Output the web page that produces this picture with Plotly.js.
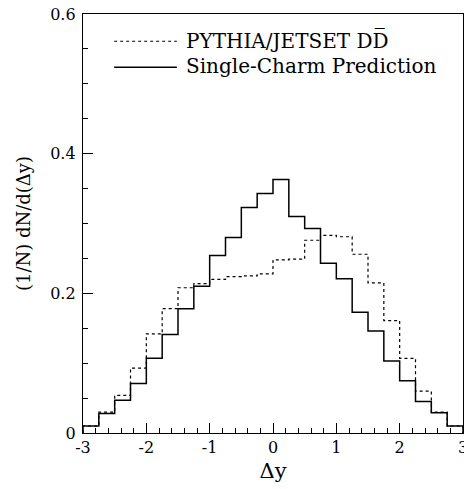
<!DOCTYPE html>
<html>
<head>
<meta charset="utf-8">
<script src="https://cdn.plot.ly/plotly-3.0.1.min.js"></script>
<style>html,body{margin:0;padding:0;background:#fff;}#chart{width:464px;height:489px;}</style>
</head>
<body>
<div id="chart"></div>
<script>
// Bin low edges (bin width 0.25), upper edge of the last bin
const binLow = [-3, -2.75, -2.5, -2.25, -2, -1.75, -1.5, -1.25, -1, -0.75, -0.5, -0.25,
                0, 0.25, 0.5, 0.75, 1, 1.25, 1.5, 1.75, 2, 2.25, 2.5, 2.75];
const binHigh = 3;
// Single-Charm Prediction (solid)
const singleCharm = [0.010, 0.028, 0.047, 0.071, 0.107, 0.141, 0.178, 0.210, 0.254, 0.280, 0.323, 0.343,
                     0.363, 0.310, 0.293, 0.243, 0.221, 0.173, 0.146, 0.103, 0.075, 0.045, 0.029, 0.010];
// PYTHIA/JETSET DDbar (dotted)
const pythia = [0.010, 0.030, 0.054, 0.093, 0.142, 0.178, 0.208, 0.214, 0.220, 0.224, 0.225, 0.228,
                0.248, 0.249, 0.276, 0.283, 0.281, 0.256, 0.215, 0.161, 0.107, 0.060, 0.030, 0.010];
const xTickVals = [-3, -2, -1, 0, 1, 2, 3];
const xTickText = ['-3', '-2', '-1', '0', '1', '2', '3'];
const legendNames = ['PYTHIA/JETSET DD\u0305', 'Single-Charm Prediction'];

function stepXY(vals) {
  const xs = [binLow[0]].concat(binLow, [binHigh, binHigh]);
  const ys = [0].concat(vals, [vals[vals.length - 1], 0]);
  return {x: xs, y: ys};
}

const FONT = 'DejaVu Serif';
const p = stepXY(pythia), s = stepXY(singleCharm);
const traces = [
  {x: p.x, y: p.y, type: 'scatter', mode: 'lines', line: {shape: 'hv', color: '#000', width: 1.2, dash: 'dot'}, showlegend: false, hoverinfo: 'skip'},
  {x: s.x, y: s.y, type: 'scatter', mode: 'lines', line: {shape: 'hv', color: '#000', width: 1.5}, showlegend: false, hoverinfo: 'skip'}
];

const axisCommon = {
  showgrid: false, zeroline: false, showline: true, linecolor: '#000', linewidth: 1.2,
  mirror: true, ticks: 'inside', ticklen: 10, tickwidth: 1, tickcolor: '#000',
  ticklabeloverflow: 'allow',
  tickfont: {family: FONT, size: 16, color: '#000'}
};

const layout = {
  width: 464, height: 489,
  margin: {l: 83, r: 1, t: 14, b: 56},
  paper_bgcolor: '#fff', plot_bgcolor: '#fff',
  showlegend: false,
  font: {family: FONT, color: '#000'},
  xaxis: Object.assign({}, axisCommon, {
    range: [-3, 3], tickmode: 'array', tickvals: xTickVals, ticktext: xTickText,
    minor: {dtick: 0.2, ticks: 'inside', ticklen: 5, tickwidth: 1, tickcolor: '#000', showgrid: false},
    title: {text: '\u0394y', font: {family: FONT, size: 21, color: '#000'}, standoff: 6}
  }),
  yaxis: Object.assign({}, axisCommon, {
    range: [0, 0.6], dtick: 0.2, tick0: 0, ticklabelstandoff: 3,
    minor: {dtick: 0.05, ticks: 'inside', ticklen: 5, tickwidth: 1, tickcolor: '#000', showgrid: false},
    title: {text: '(1/N) dN/d(\u0394y)', font: {family: FONT, size: 18, color: '#000'}, standoff: 14}
  }),
  shapes: [
    {type: 'line', xref: 'paper', yref: 'paper', x0: 0.082, x1: 0.247, y0: 0.935, y1: 0.935, line: {color: '#000', width: 1.2, dash: 'dot'}},
    {type: 'line', xref: 'paper', yref: 'paper', x0: 0.082, x1: 0.247, y0: 0.873, y1: 0.873, line: {color: '#000', width: 1.5}}
  ],
  annotations: [
    {xref: 'paper', yref: 'paper', x: 0.265, y: 0.937, xanchor: 'left', yanchor: 'middle', showarrow: false, text: legendNames[0], font: {family: FONT, size: 20, color: '#000'}},
    {xref: 'paper', yref: 'paper', x: 0.265, y: 0.875, xanchor: 'left', yanchor: 'middle', showarrow: false, text: legendNames[1], font: {family: FONT, size: 20, color: '#000'}}
  ]
};

Plotly.newPlot('chart', traces, layout, {staticPlot: true, displayModeBar: false});
</script>
</body>
</html>
